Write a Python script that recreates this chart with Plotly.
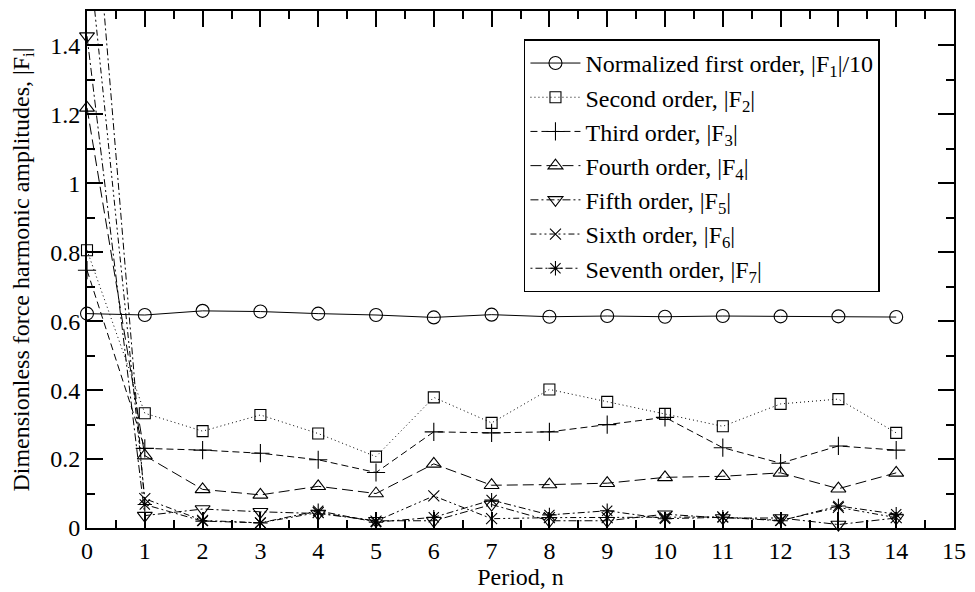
import plotly.graph_objects as go

period = list(range(15))

f1_norm = [0.622, 0.618, 0.630, 0.628, 0.622, 0.618, 0.611, 0.619, 0.613, 0.615, 0.613, 0.615, 0.614, 0.614, 0.612]
f2 = [0.806, 0.333, 0.281, 0.328, 0.274, 0.207, 0.379, 0.305, 0.402, 0.366, 0.331, 0.295, 0.360, 0.374, 0.276]
f3 = [0.748, 0.231, 0.226, 0.217, 0.198, 0.161, 0.279, 0.276, 0.279, 0.300, 0.321, 0.233, 0.188, 0.238, 0.226]
f4 = [1.219, 0.210, 0.112, 0.096, 0.121, 0.100, 0.186, 0.124, 0.126, 0.130, 0.147, 0.150, 0.160, 0.114, 0.160]
f5 = [1.427, 0.036, 0.055, 0.047, 0.042, 0.021, 0.021, 0.068, 0.021, 0.021, 0.040, 0.029, 0.029, 0.010, 0.029]
f6 = [1.72, 0.085, 0.022, 0.015, 0.045, 0.020, 0.093, 0.027, 0.030, 0.030, 0.030, 0.032, 0.022, 0.060, 0.030]
f7 = [2.10, 0.068, 0.020, 0.015, 0.050, 0.017, 0.031, 0.081, 0.038, 0.050, 0.027, 0.031, 0.021, 0.064, 0.040]

names = [
    "Normalized first order, |F<sub>1</sub>|/10",
    "Second order, |F<sub>2</sub>|",
    "Third order, |F<sub>3</sub>|",
    "Fourth order, |F<sub>4</sub>|",
    "Fifth order, |F<sub>5</sub>|",
    "Sixth order, |F<sub>6</sub>|",
    "Seventh order, |F<sub>7</sub>|",
]
series = [f1_norm, f2, f3, f4, f5, f6, f7]
symbols = ["circle-open", "square-open", "cross-thin-open", "triangle-up-open",
           "triangle-down-open", "x-thin-open", "asterisk-open"]
sizes = [13, 11, 13, 13, 13, 11, 12]
dashes = ["solid", "1px,3px", "7px,4px", "11px,5px", "8px,3px,2px,3px",
          "6px,3px,2px,3px,2px,3px", "2px,3px,7px,3px"]

FONT = "Liberation Serif, Times New Roman, serif"
FS = 24

fig = go.Figure()
for i, (nm, ys) in enumerate(zip(names, series)):
    fig.add_trace(go.Scatter(
        x=period, y=ys, name=nm, mode="lines+markers",
        legendgroup=f"g{i}",
        line=dict(color="black", width=1.0, dash=dashes[i]),
        marker=dict(symbol=symbols[i], size=sizes[i], color="black",
                    line=dict(color="black", width=1.1)),
        cliponaxis=False,
    ))

axis_common = dict(
    showline=True, linecolor="black", linewidth=2, mirror="ticks",
    ticks="inside", ticklen=16, tickwidth=1.5, tickcolor="black",
    showgrid=False, zeroline=False,
    tickfont=dict(family=FONT, size=FS, color="black"),
    title_font=dict(family=FONT, size=FS, color="black"),
)

fig.update_xaxes(range=[0, 15], dtick=1, tick0=0,
                 minor=dict(dtick=0.5, ticks="inside", ticklen=8, tickwidth=1.5, tickcolor="black"),
                 title_text="Period, n", title_standoff=2, **axis_common)
fig.update_yaxes(range=[0, 1.5], dtick=0.2, tick0=0,
                 minor=dict(dtick=0.1, ticks="inside", ticklen=8, tickwidth=1.5, tickcolor="black"),
                 title_text="Dimensionless force harmonic amplitudes, |F<sub>i</sub>|",
                 title_standoff=14, **axis_common)

fig.update_layout(
    width=975, height=592, autosize=False,
    margin=dict(l=87, r=13, t=9, b=60),
    plot_bgcolor="white", paper_bgcolor="white",
    font=dict(family=FONT, size=FS, color="black"),
    legend=dict(x=0.504, y=0.945, xanchor="left", yanchor="top",
                bordercolor="black", borderwidth=1.5, bgcolor="white",
                font=dict(family=FONT, size=FS, color="black"),
                itemwidth=50,
                tracegroupgap=2, traceorder="normal"),
    showlegend=True,
)

fig.write_html("out.html",
               config={"displayModeBar": False},
               post_script="document.body.style.margin='0px';document.body.style.overflow='hidden';")
